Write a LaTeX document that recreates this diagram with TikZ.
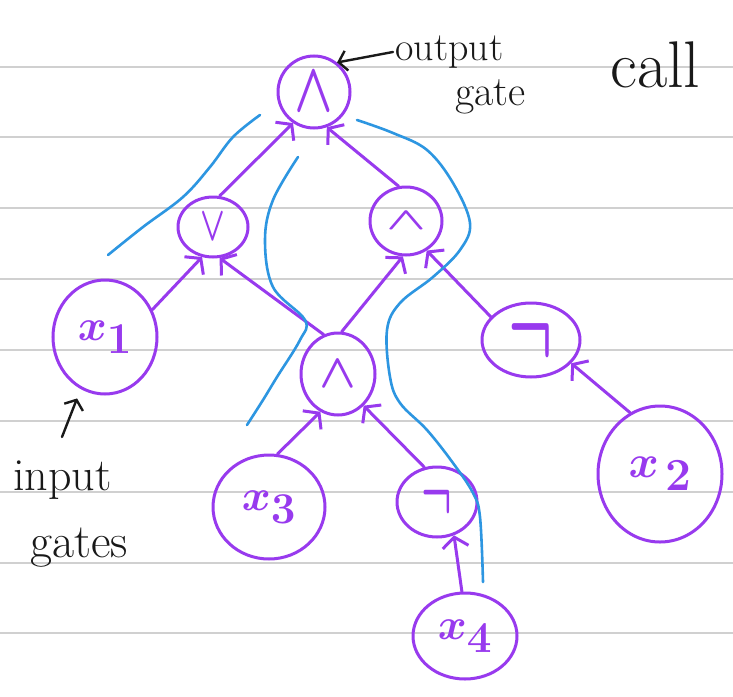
\RequirePackage{fix-cm}
\documentclass[tikz,border=0pt]{standalone}
\usetikzlibrary{arrows.meta,shapes.geometric}
\definecolor{gatepurple}{RGB}{152,58,238}
\definecolor{cutblue}{RGB}{45,150,225}
\definecolor{ruleline}{RGB}{208,208,208}
\definecolor{inkblack}{RGB}{25,25,25}
\newcommand{\gatefont}[1]{\fontsize{#1}{#1}\selectfont}
% a gate symbol at a given size, stretched by a horizontal and vertical factor
\newcommand{\gatesym}[4]{\scalebox{#2}[#3]{\gatefont{#1}$#4$}}

\begin{document}
\begin{tikzpicture}[x=1pt,y=-1pt,
  gate/.style={ellipse, draw=gatepurple, line width=3pt, inner sep=0pt,
    text=gatepurple, font=\boldmath},
  wire/.style={draw=gatepurple, line width=3pt, line cap=round,
    -{Straight Barb[length=10pt,width=26pt]}},
  cut/.style={draw=cutblue, line width=2.6pt, line cap=round, line join=round},
  note/.style={inner sep=0pt, text=inkblack, anchor=base west},
  pointer/.style={draw=inkblack, line width=2.4pt, line cap=round,
    -{Straight Barb[length=8pt,width=20pt]}},
  rule/.style={draw=ruleline, line width=1.6pt},
]
\useasboundingbox (0,0) rectangle (733,696);
\fill[white] (0,0) rectangle (733,696);

% ruled paper
\foreach \yy in {67,137,208,279,350,421,492,563,633}
  \draw[rule] (0,\yy) -- (733,\yy);

% gates
\node[gate, minimum width=72pt, minimum height=72pt] (out) at (314,92)
  {\gatesym{56}{0.9}{1.25}{\wedge}};
\node[gate, minimum width=70pt, minimum height=60pt] (orgate) at (213,227)
  {\gatesym{36}{0.9}{1.35}{\vee}};
\node[gate, minimum width=72pt, minimum height=68pt] (andr) at (406,221)
  {\gatesym{52}{1}{0.6}{\wedge}};
\node[gate, minimum width=104pt, minimum height=114pt] (xone) at (105,337)
  {\gatefont{44}$x_{\textstyle 1}$};
\node[gate, minimum width=74pt, minimum height=82pt] (andm) at (338,374)
  {\gatesym{48}{1}{1}{\wedge}};
\node[gate, minimum width=98pt, minimum height=74pt] (negr) at (531,340)
  {\gatesym{58}{1}{1.9}{\neg}};
\node[gate, minimum width=112pt, minimum height=104pt] (xthree) at (269,507)
  {\gatefont{44}$x_{\textstyle 3}$};
\node[gate, minimum width=80pt, minimum height=70pt] (negm) at (437,502)
  {\gatesym{40}{1}{1.9}{\neg}};
\node[gate, minimum width=124pt, minimum height=136pt] (xtwo) at (660,474)
  {\gatefont{46}$x_{\,\textstyle 2}$};
\node[gate, minimum width=104pt, minimum height=86pt] (xfour) at (465,636)
  {\gatefont{44}$x_{\textstyle 4}$};

% wires, child to parent
\draw[wire] (orgate.78) -- (out.236);
\draw[wire] (andr.102) -- (out.290);
\draw[wire] (xone.30) -- (orgate.250);
\draw[wire] (andm.110) -- (orgate.282);
\draw[wire] (andm.85) -- (andr.265);
\draw[wire] (negr.150) -- (andr.305);
\draw[wire] (xthree.81) -- (andm.245);
\draw[wire] (negm.110) -- (andm.309);
\draw[wire] (xfour.94) -- (negm.297);
\draw[wire] (xtwo.116) -- (negr.330);

% cuts through the circuit
\draw[cut] plot[smooth, tension=0.6] coordinates
  {(108,255) (143,227) (183,197) (210,167) (233,137) (260,115)};
\draw[cut] plot[smooth, tension=0.6] coordinates
  {(298,157) (273,200) (265,240) (273,287) (305,320) (300,340) (277,377) (263,400) (247,425)};
\draw[cut] plot[smooth, tension=0.6] coordinates
  {(357,120) (393,133) (427,150) (453,183) (470,223) (460,250) (433,277) (400,303)
   (387,330) (390,377) (400,403) (427,430) (453,463) (473,493) (480,517) (483,582)};

% notes
\node[note, font=\gatefont{40}] (outtxt) at (395,60) {output};
\node[note, font=\gatefont{42}] (gatetxt) at (455,105) {gate};
\node[note, font=\gatefont{66}] (calltxt) at (610,87) {call};
\node[note, font=\gatefont{46}] (inptxt) at (13,490) {input};
\node[note, font=\gatefont{48}] (gatestxt) at (30,557) {gates};
\coordinate (inptail) at (62,437);

\draw[pointer, shorten <=2pt] (outtxt.west) -- (out.52);
\draw[pointer, shorten >=10pt] (inptail) -- (xone.245);
\end{tikzpicture}
\end{document}
